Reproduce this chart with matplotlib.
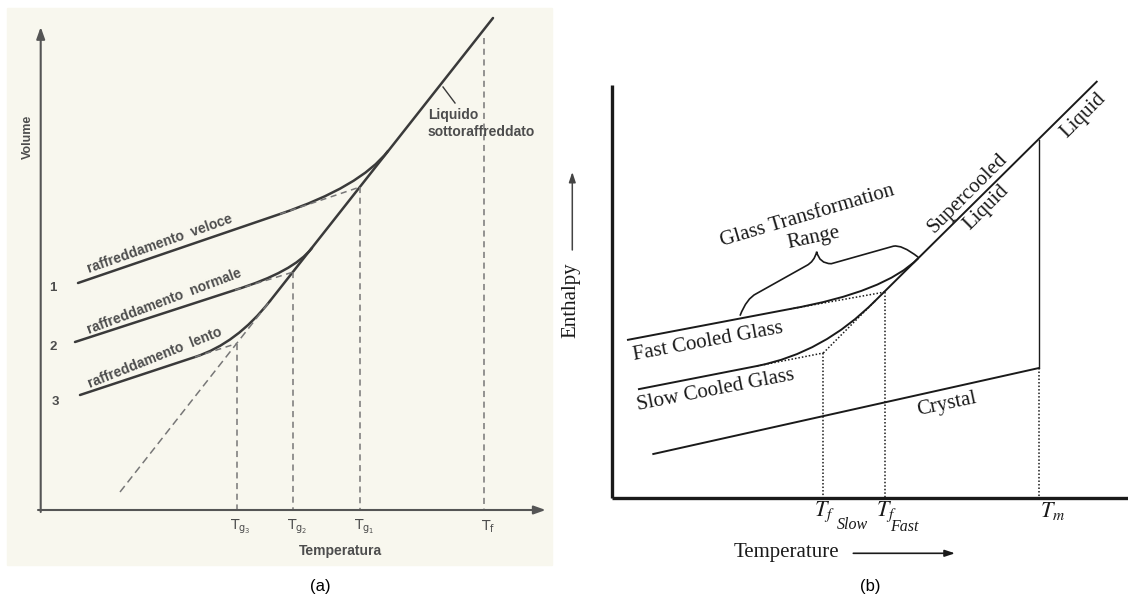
import matplotlib.pyplot as plt
from matplotlib.path import Path
from matplotlib.patches import PathPatch, Rectangle

plt.rcParams['mathtext.fontset'] = 'stix'

# ---- panel (a): Volume / Temperatura (schematic units) ----
a_liquid_T = [7.93, 45.23]          # bottom of dashed extension, top of liquid line
a_liquid_V = [1.8, 49.2]
a_tg_T = [31.93, 25.26, 19.6]       # Tg1, Tg2, Tg3 (curves 1, 2, 3)
a_tg_V = [32.3, 23.8, 16.65]
a_start_T = [3.73, 3.43, 3.93]      # left end of each glass line
a_start_V = [22.7, 16.8, 11.5]
a_bend_T = [23.93, 19.43, 15.43]    # where the curve leaves the glass line
a_bend_V = [29.6, 22.0, 15.3]
a_merge_T = [34.73, 27.13, 22.93]   # where the curve joins the liquid line
a_merge_V = [35.9, 26.2, 20.9]
a_tf_T = 44.33
a_tf_top = 47.2
a_tick_T = [19.6, 25.26, 31.93, 44.33]
a_tick_labels = [r'$\mathrm{T}_{\mathrm{g}_3}$', r'$\mathrm{T}_{\mathrm{g}_2}$',
                 r'$\mathrm{T}_{\mathrm{g}_1}$', r'$\mathrm{T}_{\mathrm{f}}$']
a_curve_names = ['raffreddamento  veloce', 'raffreddamento  normale',
                 'raffreddamento  lento']
a_curve_nums = ['1', '2', '3']

# ---- panel (b): Enthalpy / Temperature ----
b_liquid_top = (48.34, 41.5)
b_tf_T = [27.17, 21.0]              # T_f Fast, T_f Slow
b_tf_V = [20.47, 14.37]
b_start_T = [1.37, 2.47]            # fast, slow glass
b_start_V = [15.67, 10.74]
b_bend_T = [17.67, 14.37]
b_bend_V = [18.77, 13.07]
b_merge_T = [30.5, 26.17]
b_merge_V = [23.85, 19.57]
b_crystal_T = [4.0, 42.57]
b_crystal_V = [4.27, 12.87]
b_tm_T = 42.57
b_tm_V = 35.67
b_glass_names = ['Fast Cooled Glass', 'Slow Cooled Glass']
b_brace = [(12.67, 18.1), (13.34, 19.84), (14.3, 20.3), (19.3, 23.1),
           (20.1, 23.5), (20.34, 24.5), (20.6, 23.3), (21.8, 23.3),
           (28.0, 25.05), (28.84, 25.24), (30.5, 23.94)]


def glass_curve(ax, p0, p1, ctrl, p2, **kw):
    verts = [p0, p1, ctrl, p2]
    codes = [Path.MOVETO, Path.LINETO, Path.CURVE3, Path.CURVE3]
    ax.add_patch(PathPatch(Path(verts, codes), fill=False, **kw))


fig = plt.figure(figsize=(11.28, 5.97), dpi=100)

# ================= (a) =================
ax = fig.add_axes([0, 0, 0.5, 1])
ax.set_xlim(-4.07, 52.33)
ax.set_ylim(-8.7, 51.0)
ax.axis('off')
ax.add_patch(Rectangle((-3.37, -5.5), 54.5, 55.7, color='#f8f7ee', zorder=0))

ink = '#3a3a3a'
dash = '#777777'
txt = '#4d4d4d'

# liquid line: solid above the slow curve, dashed below
ax.plot([a_merge_T[2], a_liquid_T[1]], [a_merge_V[2], a_liquid_V[1]],
        color=ink, lw=1.8, solid_capstyle='round')
ax.plot([a_liquid_T[0], a_merge_T[2]], [a_liquid_V[0], a_merge_V[2]],
        color=dash, lw=1.1, ls=(0, (5, 3)))

for i in range(3):
    glass_curve(ax, (a_start_T[i], a_start_V[i]), (a_bend_T[i], a_bend_V[i]),
                (a_tg_T[i], a_tg_V[i]), (a_merge_T[i], a_merge_V[i]),
                color=ink, lw=1.8, capstyle='round', joinstyle='round')
    ax.plot([a_bend_T[i], a_tg_T[i]], [a_bend_V[i], a_tg_V[i]],
            color=dash, lw=1.1, ls=(0, (4, 3)))
    ax.plot([a_tg_T[i], a_tg_T[i]], [a_tg_V[i], 0],
            color=dash, lw=1.1, ls=(0, (4, 3)))
ax.plot([a_tf_T, a_tf_T], [a_tf_top, 0], color=dash, lw=1.1, ls=(0, (4, 3)))

# axes with arrows
axc = '#555555'
ax.annotate('', xy=(0, 48.3), xytext=(0, -0.2),
            arrowprops=dict(arrowstyle='-|>,head_length=0.7,head_width=0.25',
                            lw=1.5, color=axc, shrinkA=0, shrinkB=0))
ax.annotate('', xy=(50.5, 0), xytext=(-0.27, 0),
            arrowprops=dict(arrowstyle='-|>,head_length=0.7,head_width=0.25',
                            lw=1.5, color=axc, shrinkA=0, shrinkB=0))

fa = dict(family='Liberation Sans', weight='bold', color=txt)
ax.text(-1.27, 37.3, 'Volume', rotation=90, ha='center', va='center',
        fontsize=9, **fa)
for t, lab in zip(a_tick_T, a_tick_labels):
    ax.text(t + 0.4, -1.7, lab, ha='center', va='center', fontsize=10,
            color=txt, math_fontfamily='dejavusans')
ax.text(29.93, -4.1, 'Temperatura', ha='center', va='center', fontsize=10, **fa)

num_pos = [(1.23, 22.2), (1.23, 16.3), (1.43, 10.8)]
for (x, y), n in zip(num_pos, a_curve_nums):
    ax.text(x, y, n, ha='center', va='center', fontsize=9.5, **fa)

lab_pos = [(11.93, 26.6, 19.4), (12.33, 20.85, 20.6), (11.43, 15.2, 21.7)]
for (x, y, r), name in zip(lab_pos, a_curve_names):
    ax.text(x, y, name, rotation=r, rotation_mode='anchor', ha='center',
            va='center', fontsize=10, **fa)

ax.text(38.73, 39.5, 'Liquido', ha='left', va='center', fontsize=10, **fa)
ax.text(38.73, 37.8, 'sottoraffreddato', ha='left', va='center',
        fontsize=10, **fa)
ax.plot([40.23, 41.43], [42.3, 40.7], color=ink, lw=1.0)

ax.text(27.93, -7.6, '(a)', ha='center', va='center', fontsize=12,
        family='Liberation Sans', color='black')

# ================= (b) =================
bx = fig.add_axes([0.5, 0, 0.5, 1])
bx.set_xlim(-4.93, 51.47)
bx.set_ylim(-10.03, 49.67)
bx.axis('off')

k = '#1a1a1a'
dot = (0, (1, 1.3))

bx.plot([-0.12, -0.12], [-0.12, 41.17], color=k, lw=2.4, solid_capstyle='butt')
bx.plot([-0.12, 51.47], [-0.12, -0.12], color=k, lw=2.4, solid_capstyle='butt')

bx.plot([b_merge_T[1], b_liquid_top[0]], [b_merge_V[1], b_liquid_top[1]],
        color=k, lw=1.4)
bx.plot([b_tf_T[1], b_merge_T[1]], [b_tf_V[1], b_merge_V[1]],
        color=k, lw=1.1, ls=dot)
for i in range(2):
    glass_curve(bx, (b_start_T[i], b_start_V[i]), (b_bend_T[i], b_bend_V[i]),
                (b_tf_T[i], b_tf_V[i]), (b_merge_T[i], b_merge_V[i]),
                color=k, lw=1.4)
    bx.plot([b_bend_T[i], b_tf_T[i]], [b_bend_V[i], b_tf_V[i]],
            color=k, lw=1.1, ls=dot)
    bx.plot([b_tf_T[i], b_tf_T[i]], [b_tf_V[i], 0], color=k, lw=1.1, ls=dot)

bx.plot(b_crystal_T, b_crystal_V, color=k, lw=1.4)
bx.plot([b_tm_T, b_tm_T], [b_tm_V, b_crystal_V[1]], color=k, lw=1.0)
bx.plot([b_tm_T, b_tm_T], [b_crystal_V[1], 0], color=k, lw=1.1, ls=dot)

codes = [Path.MOVETO, Path.CURVE3, Path.CURVE3, Path.LINETO,
         Path.CURVE3, Path.CURVE3, Path.CURVE3, Path.CURVE3,
         Path.LINETO, Path.CURVE3, Path.CURVE3]
bx.add_patch(PathPatch(Path(b_brace, codes), fill=False, color=k, lw=1.2))

fb = dict(family='Liberation Serif', color=k)
bx.text(9.47, 15.5, b_glass_names[0], rotation=10.4, rotation_mode='anchor',
        ha='center', va='center', fontsize=15, **fb)
bx.text(10.27, 10.67, b_glass_names[1], rotation=11, rotation_mode='anchor',
        ha='center', va='center', fontsize=15, **fb)
bx.text(33.37, 9.2, 'Crystal', rotation=12, rotation_mode='anchor',
        ha='center', va='center', fontsize=15, **fb)
bx.text(19.42, 28.02, 'Glass Transformation', rotation=16.5,
        rotation_mode='anchor', ha='center', va='center', fontsize=15, **fb)
bx.text(20.0, 25.84, 'Range', rotation=12, rotation_mode='anchor',
        ha='center', va='center', fontsize=15, **fb)
bx.text(35.47, 30.37, 'Supercooled', rotation=45, rotation_mode='anchor',
        ha='center', va='center', fontsize=15, **fb)
bx.text(37.34, 28.87, 'Liquid', rotation=45, rotation_mode='anchor',
        ha='center', va='center', fontsize=15, **fb)
bx.text(46.97, 38.07, 'Liquid', rotation=45, rotation_mode='anchor',
        ha='center', va='center', fontsize=15, **fb)

bx.text(b_tf_T[1] + 0.1, -0.3, r'$T_f$', ha='center', va='top', fontsize=16,
        color=k)
bx.text(b_tf_T[1] + 1.4, -2.83, 'Slow', ha='left', va='center', fontsize=11.5,
        style='italic', **fb)
bx.text(b_tf_T[0] + 0.1, -0.3, r'$T_f$', ha='center', va='top', fontsize=16,
        color=k)
bx.text(b_tf_T[0] + 0.5, -3.0, 'Fast', ha='left', va='center', fontsize=11.5,
        style='italic', **fb)
bx.text(b_tm_T + 1.4, -0.3, r'$T_m$', ha='center', va='top', fontsize=16,
        color=k)

bx.text(17.34, -5.63, 'Temperature', ha='center', va='center', fontsize=15,
        **fb)
bx.annotate('', xy=(34.17, -5.66), xytext=(24.0, -5.66),
            arrowprops=dict(arrowstyle='-|>,head_length=0.6,head_width=0.2',
                            lw=1.2, color=k, shrinkA=0, shrinkB=0))
bx.text(-4.23, 19.67, 'Enthalpy', rotation=90, ha='center', va='center',
        fontsize=15, **fb)
bx.annotate('', xy=(-4.1, 32.47), xytext=(-4.1, 24.67),
            arrowprops=dict(arrowstyle='-|>,head_length=0.6,head_width=0.2',
                            lw=1.1, color='#444444', shrinkA=0, shrinkB=0))

bx.text(25.67, -8.93, '(b)', ha='center', va='center', fontsize=12,
        family='Liberation Sans', color='black')

fig.savefig('out.png', dpi=100)
